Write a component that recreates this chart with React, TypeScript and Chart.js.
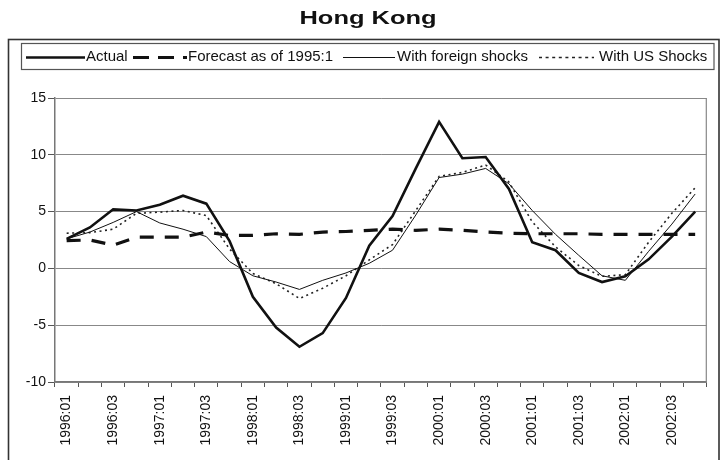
import { useEffect, useRef } from "react";
import { Chart, registerables } from "chart.js";

Chart.register(...registerables);

const chartTitle = "Hong Kong";

const quarters = [
  "1996:01", "1996:02", "1996:03", "1996:04",
  "1997:01", "1997:02", "1997:03", "1997:04",
  "1998:01", "1998:02", "1998:03", "1998:04",
  "1999:01", "1999:02", "1999:03", "1999:04",
  "2000:01", "2000:02", "2000:03", "2000:04",
  "2001:01", "2001:02", "2001:03", "2001:04",
  "2002:01", "2002:02", "2002:03", "2002:04",
];

const actual = [2.6, 3.6, 5.2, 5.1, 5.6, 6.4, 5.7, 2.4, -2.5, -5.2, -6.9, -5.7, -2.6, 2.0, 4.6, 8.8, 12.9, 9.7, 9.8, 7.0, 2.3, 1.6, -0.4, -1.2, -0.7, 0.8, 2.8, 5.0];
const forecast = [2.45, 2.5, 2.05, 2.75, 2.75, 2.75, 3.2, 2.9, 2.9, 3.05, 3.0, 3.2, 3.25, 3.35, 3.45, 3.35, 3.45, 3.35, 3.2, 3.1, 3.05, 3.05, 3.05, 3.0, 3.0, 3.0, 3.0, 3.0];
const foreignShocks = [2.6, 3.2, 4.05, 5.0, 4.0, 3.45, 2.8, 0.6, -0.65, -1.2, -1.85, -1.05, -0.4, 0.45, 1.6, 4.7, 8.0, 8.3, 8.8, 7.45, 5.1, 3.0, 1.15, -0.65, -1.05, 1.5, 3.9, 6.55];
const usShocks = [3.1, 3.15, 3.45, 4.85, 4.95, 5.1, 4.65, 1.7, -0.45, -1.35, -2.65, -1.75, -0.65, 0.75, 2.1, 5.1, 8.1, 8.45, 9.1, 7.6, 4.1, 1.9, 0.25, -0.7, -0.55, 2.3, 4.85, 7.1];

const seriesNames = ["Actual", "Forecast as of 1995:1", "With foreign shocks", "With US Shocks"];

const yMin = -10;
const yMax = 15;
const yStep = 5;

const FONT = '"Liberation Sans", Arial, Helvetica, sans-serif';

// legend layout: sample start/end and text start (px)
const legendLayout = [
  { x0: 26, x1: 85, tx: 86 },
  { x0: 133, x1: 187, tx: 188 },
  { x0: 343, x1: 395, tx: 397 },
  { x0: 539, x1: 594, tx: 599 },
];

const decorPlugin = {
  id: "decor",
  beforeDraw(chart: any) {
    const ctx = chart.ctx as CanvasRenderingContext2D;
    ctx.save();
    ctx.fillStyle = "#ffffff";
    ctx.fillRect(0, 0, chart.width, chart.height);

    // Title (stretched horizontally like the reference)
    ctx.font = `bold 17.5px ${FONT}`;
    ctx.fillStyle = "#111";
    ctx.textBaseline = "alphabetic";
    ctx.textAlign = "center";
    const w = ctx.measureText(chartTitle).width;
    const sx = 137 / w;
    ctx.translate(368, 23.5);
    ctx.scale(sx, 1);
    ctx.fillText(chartTitle, 0, 0);
    ctx.restore();

    ctx.save();
    // outer frame
    ctx.strokeStyle = "#333";
    ctx.lineWidth = 1.6;
    ctx.strokeRect(8.5, 39.5, 710.5, 440);

    // legend box
    ctx.strokeStyle = "#555";
    ctx.lineWidth = 1.2;
    ctx.strokeRect(21.5, 43.5, 692.5, 26);

    // legend items
    const ds = chart.data.datasets;
    ctx.font = `15px ${FONT}`;
    ctx.textAlign = "left";
    ctx.textBaseline = "alphabetic";
    for (let i = 0; i < ds.length; i++) {
      const d = ds[i];
      const L = legendLayout[i];
      ctx.save();
      ctx.strokeStyle = d.borderColor;
      ctx.lineWidth = d.borderWidth;
      ctx.setLineDash(d.legendDash || []);
      ctx.lineCap = "butt";
      ctx.beginPath();
      ctx.moveTo(L.x0, 57.5);
      ctx.lineTo(L.x1, 57.5);
      ctx.stroke();
      ctx.restore();
      ctx.fillStyle = "#111";
      ctx.fillText(d.label, L.tx, 61);
    }
    ctx.restore();
  },
  afterDraw(chart: any) {
    const ctx = chart.ctx as CanvasRenderingContext2D;
    const { top, right, bottom } = chart.chartArea;
    ctx.save();
    ctx.strokeStyle = "#888";
    ctx.lineWidth = 1.2;
    ctx.beginPath();
    ctx.moveTo(right - 0.5, top);
    ctx.lineTo(right - 0.5, bottom);
    ctx.stroke();
    ctx.restore();
  },
};

export default function App() {
  const ref = useRef<HTMLCanvasElement>(null);

  useEffect(() => {
    const canvas = ref.current;
    if (!canvas) return;
    const chart = new Chart(canvas, {
      type: "line",
      data: {
        labels: quarters,
        datasets: [
          {
            label: seriesNames[0],
            data: actual,
            borderColor: "#111",
            borderWidth: 2.6,
            pointRadius: 0,
            tension: 0,
            fill: false,
          } as any,
          {
            label: seriesNames[1],
            data: forecast,
            borderColor: "#111",
            borderWidth: 3.2,
            borderDash: [14, 11],
            legendDash: [16, 9],
            pointRadius: 0,
            tension: 0,
            fill: false,
          } as any,
          {
            label: seriesNames[2],
            data: foreignShocks,
            borderColor: "#111",
            borderWidth: 1,
            pointRadius: 0,
            tension: 0,
            fill: false,
          } as any,
          {
            label: seriesNames[3],
            data: usShocks,
            borderColor: "#222",
            borderWidth: 1.6,
            borderDash: [2, 3.5],
            legendDash: [3, 3.6],
            pointRadius: 0,
            tension: 0,
            fill: false,
          } as any,
        ],
      },
      options: {
        responsive: false,
        animation: false,
        devicePixelRatio: 1,
        layout: { padding: { top: 98, left: 0, right: 2, bottom: 0 } },
        plugins: {
          legend: { display: false },
          title: { display: false },
          tooltip: { enabled: false },
        },
        scales: {
          x: {
            type: "category",
            offset: true,
            grid: {
              offset: true,
              drawOnChartArea: false,
              drawTicks: true,
              tickLength: 5,
              color: "#555",
            },
            border: { color: "#777", width: 1.5 },
            ticks: {
              autoSkip: false,
              maxRotation: 90,
              minRotation: 90,
              padding: 8,
              color: "#111",
              font: { family: FONT, size: 14 },
              callback: (_v: any, i: number) => (i % 2 === 0 ? quarters[i] : ""),
            },
            afterFit: (scale: any) => {
              scale.height = 78;
            },
          },
          y: {
            min: yMin,
            max: yMax,
            ticks: {
              stepSize: yStep,
              padding: 2,
              color: "#111",
              font: { family: FONT, size: 14 },
            },
            grid: {
              color: "#888",
              lineWidth: 1,
              tickLength: 7,
              tickColor: "#555",
            },
            border: { color: "#777", width: 1.5 },
            afterFit: (scale: any) => {
              scale.width = 55;
            },
          },
        },
      },
      plugins: [decorPlugin],
    } as any);
    return () => chart.destroy();
  }, []);

  return (
    <div style={{ position: "absolute", left: 0, top: 0, width: 720, height: 460, background: "#fff" }}>
      <canvas ref={ref} width={720} height={460} style={{ width: 720, height: 460, display: "block" }} />
    </div>
  );
}
